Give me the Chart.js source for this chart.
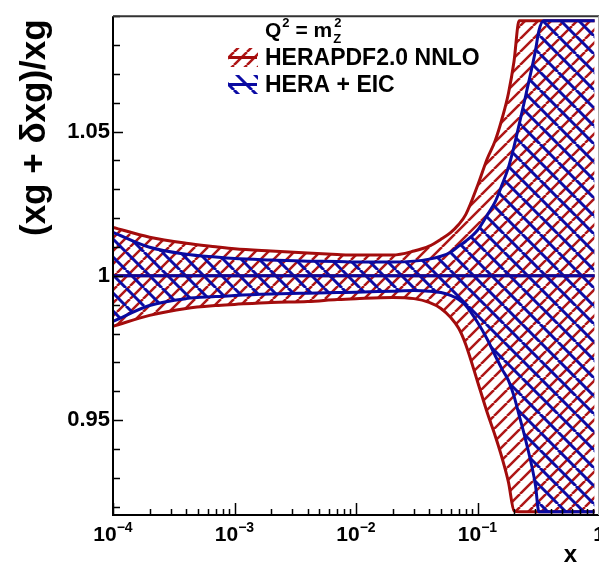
<!DOCTYPE html>
<html>
<head>
<meta charset="utf-8">
<script src="https://cdn.jsdelivr.net/npm/chart.js@4.4.0/dist/chart.umd.min.js"></script>
<style>
  html, body { margin: 0; padding: 0; background: #fff; overflow: hidden; }
</style>
</head>
<body>
<canvas id="ratioChart" width="599" height="563"></canvas>
<script>
// x grid and band edges
const xRed = [1e-4, 2e-4, 4e-4, 7e-4, 1e-3, 2e-3, 4e-3, 7e-3, 1e-2, 0.02, 0.03, 0.04, 0.05, 0.06, 0.07, 0.08, 0.1, 0.12, 0.14, 0.16, 0.18, 0.2, 0.22, 0.25, 0.3, 0.4, 0.6, 0.92];
const redUpper = [1.0168, 1.0134, 1.0113, 1.0101, 1.0094, 1.0086, 1.0079, 1.0074, 1.0072, 1.0072, 1.0086, 1.0103, 1.0127, 1.0150, 1.0178, 1.0212, 1.0312, 1.0405, 1.0469, 1.0548, 1.0634, 1.0745, 1.0884, 1.0884, 1.0884, 1.0884, 1.0884, 1.0884];
const redLower = [0.9825, 0.9863, 0.9887, 0.9897, 0.9901, 0.9908, 0.9911, 0.9918, 0.9921, 0.9925, 0.9921, 0.9908, 0.9887, 0.9856, 0.9818, 0.9762, 0.9634, 0.9527, 0.9445, 0.9366, 0.9284, 0.9185, 0.9182, 0.9182, 0.9182, 0.9182, 0.9182, 0.9182];

const xBlue = [1e-4, 2e-4, 4e-4, 7e-4, 1e-3, 2e-3, 4e-3, 7e-3, 1e-2, 0.02, 0.03, 0.04, 0.05, 0.06, 0.07, 0.08, 0.1, 0.12, 0.14, 0.16, 0.18, 0.2, 0.22, 0.25, 0.3, 0.32, 0.35, 0.4, 0.6, 0.92];
const blueUpper = [1.0151, 1.0099, 1.0075, 1.0065, 1.0060, 1.0055, 1.0051, 1.0050, 1.0048, 1.0048, 1.0051, 1.0058, 1.0068, 1.0082, 1.0103, 1.0120, 1.0158, 1.0210, 1.0257, 1.0318, 1.0377, 1.0449, 1.0524, 1.0627, 1.0781, 1.0849, 1.0884, 1.0884, 1.0884, 1.0884];
const blueLower = [0.9842, 0.9897, 0.9921, 0.9928, 0.9932, 0.9937, 0.9940, 0.9942, 0.9943, 0.9947, 0.9949, 0.9947, 0.9942, 0.9932, 0.9918, 0.9897, 0.9839, 0.9781, 0.9723, 0.9675, 0.9637, 0.9582, 0.9517, 0.9428, 0.9274, 0.9182, 0.9182, 0.9182, 0.9182, 0.9182];

const xCentral = [1e-4, 0.92];
const central = [1, 1];

const seriesNames = ['HERAPDF2.0 NNLO', 'HERA + EIC'];
const yTitle = '(xg + \u03b4xg)/xg';
const xTitle = 'x';

const FONT = "'Liberation Sans', Arial, Helvetica, sans-serif";
const RED = 'rgb(163,12,12)';
const BLUE = 'rgb(10,10,160)';

function makeHatch(color, size, width, dir) {
  const c = document.createElement('canvas');
  c.width = size; c.height = size;
  const g = c.getContext('2d');
  g.strokeStyle = color;
  g.lineWidth = width;
  g.beginPath();
  for (let k = -1; k <= 1; k++) {
    if (dir > 0) { g.moveTo(k * size, size); g.lineTo(k * size + size, 0); }
    else { g.moveTo(k * size, 0); g.lineTo(k * size + size, size); }
  }
  g.stroke();
  return g.createPattern(c, 'repeat');
}

const redHatch = makeHatch('rgb(175,22,22)', 13, 2.5, 1);
const blueHatch = makeHatch('rgb(12,12,165)', 18, 3, -1);

function pts(xs, ys) { return xs.map((x, i) => ({x: x, y: ys[i]})); }

function isDecade(v) {
  const l = Math.log10(v);
  return Math.abs(l - Math.round(l)) < 1e-9;
}

// ticks inside the frame, tick labels, titles, legend, frame
const decorations = {
  id: 'decorations',
  afterDraw(chart) {
    const ctx = chart.ctx;
    const a = chart.chartArea;
    const xs = chart.scales.x, ys = chart.scales.y;
    ctx.save();

    // tick marks
    ctx.strokeStyle = '#000';
    ctx.lineWidth = 1.5;
    ctx.beginPath();
    const e0 = Math.round(Math.log10(xs.min)), e1 = Math.round(Math.log10(xs.max));
    for (let e = e0; e <= e1; e++) {
      for (let m = 1; m <= 9; m++) {
        const v = m * Math.pow(10, e);
        if (v > xs.max * 1.0001) break;
        const px = Math.round(xs.getPixelForValue(v)) + 0.5;
        if (px > 599) continue;
        ctx.moveTo(px, a.bottom);
        ctx.lineTo(px, a.bottom - (m === 1 ? 12 : 6));
      }
    }
    for (let k = Math.ceil(ys.min * 100 - 1e-6); k <= Math.floor(ys.max * 100 + 1e-6); k++) {
      const py = Math.round(ys.getPixelForValue(k / 100)) + 0.5;
      ctx.moveTo(a.left, py);
      ctx.lineTo(a.left + (k % 5 === 0 ? 10 : 7), py);
    }
    ctx.stroke();

    // x tick labels 10^n
    ctx.fillStyle = '#000';
    ctx.textBaseline = 'alphabetic';
    ctx.textAlign = 'left';
    for (let e = e0; e <= e1; e++) {
      const v = Math.pow(10, e);
      if (!isDecade(v)) continue;
      const px = xs.getPixelForValue(v);
      if (e === 0) {
        ctx.font = 'bold 21px ' + FONT;
        const w = ctx.measureText('1').width;
        ctx.fillText('1', px - w / 2, 541);
        continue;
      }
      const exp = '\u2212' + Math.abs(e);
      ctx.font = 'bold 21px ' + FONT;
      const wb = ctx.measureText('10').width;
      ctx.font = 'bold 14px ' + FONT;
      const we = ctx.measureText(exp).width;
      const x0 = px - (wb + we) / 2;
      ctx.font = 'bold 21px ' + FONT;
      ctx.fillText('10', x0, 541);
      ctx.font = 'bold 14px ' + FONT;
      ctx.fillText(exp, x0 + wb, 532);
    }

    // frame
    ctx.lineWidth = 2;
    ctx.strokeStyle = '#000';
    ctx.beginPath();
    ctx.moveTo(a.left, a.top);
    ctx.lineTo(a.left, a.bottom);
    ctx.lineTo(a.right, a.bottom);
    ctx.stroke();
    ctx.strokeStyle = '#333';
    ctx.beginPath();
    ctx.moveTo(a.left, a.top);
    ctx.lineTo(a.right, a.top);
    ctx.stroke();
    ctx.strokeStyle = '#aaa';
    ctx.lineWidth = 1;
    ctx.beginPath();
    ctx.moveTo(598.5, a.top);
    ctx.lineTo(598.5, a.bottom);
    ctx.stroke();

    // axis titles
    ctx.fillStyle = '#000';
    ctx.font = 'bold 35px ' + FONT;
    ctx.save();
    ctx.translate(45, 236);
    ctx.rotate(-Math.PI / 2);
    ctx.textAlign = 'left';
    ctx.fillText(yTitle, 0, 0);
    ctx.restore();
    ctx.font = 'bold 24px ' + FONT;
    ctx.textAlign = 'right';
    ctx.fillText(xTitle, 577, 562);

    // legend header Q^2 = m_Z^2
    ctx.textAlign = 'left';
    let x = 265;
    ctx.font = 'bold 21px ' + FONT;
    ctx.fillText('Q', x, 37);
    x += ctx.measureText('Q').width + 1;
    ctx.font = 'bold 13px ' + FONT;
    ctx.fillText('2', x, 27);
    x += ctx.measureText('2').width;
    ctx.font = 'bold 21px ' + FONT;
    ctx.fillText(' = m', x, 37);
    x += ctx.measureText(' = m').width + 1;
    ctx.font = 'bold 13px ' + FONT;
    ctx.fillText('Z', x, 43);
    ctx.fillText('2', x + 1, 27);

    // legend entries
    const entries = [
      {name: seriesNames[0], pat: redHatch, col: RED, top: 48, base: 65},
      {name: seriesNames[1], pat: blueHatch, col: BLUE, top: 75, base: 92}
    ];
    entries.forEach(en => {
      ctx.save();
      ctx.beginPath();
      ctx.rect(228, en.top, 30, 19);
      ctx.clip();
      ctx.fillStyle = en.pat;
      ctx.fillRect(228, en.top, 30, 19);
      ctx.restore();
      ctx.strokeStyle = en.col;
      ctx.lineWidth = 3;
      ctx.beginPath();
      ctx.moveTo(229, en.top + 9.5);
      ctx.lineTo(257, en.top + 9.5);
      ctx.stroke();
      ctx.fillStyle = '#000';
      ctx.font = 'bold 23px ' + FONT;
      ctx.fillText(en.name, 265, en.base);
    });
    ctx.restore();
  }
};

const lineBase = {pointRadius: 0, borderWidth: 3, cubicInterpolationMode: 'monotone'};

new Chart(document.getElementById('ratioChart'), {
  type: 'line',
  data: {
    datasets: [
      Object.assign({label: seriesNames[0] + ' lower', data: pts(xRed, redLower), borderColor: RED, fill: false, order: 5}, lineBase),
      Object.assign({label: seriesNames[0], data: pts(xRed, redUpper), borderColor: RED, backgroundColor: redHatch, fill: '-1', order: 6}, lineBase),
      Object.assign({label: seriesNames[1] + ' lower', data: pts(xBlue, blueLower), borderColor: BLUE, fill: false, order: 3}, lineBase),
      Object.assign({label: seriesNames[1], data: pts(xBlue, blueUpper), borderColor: BLUE, backgroundColor: blueHatch, fill: '-1', order: 4}, lineBase),
      Object.assign({label: 'central red', data: pts(xCentral, central), borderColor: RED, fill: false, order: 2}, lineBase),
      Object.assign({label: 'central blue', data: pts(xCentral, central), borderColor: BLUE, fill: false, order: 1}, lineBase)
    ]
  },
  options: {
    responsive: false,
    animation: false,
    devicePixelRatio: 1,
    layout: {padding: {top: 10, right: -1, left: 0, bottom: 0}},
    plugins: {legend: {display: false}, tooltip: {enabled: false}},
    scales: {
      x: {
        type: 'logarithmic',
        min: 1e-4,
        max: 1,
        border: {display: false},
        grid: {display: false, drawTicks: false},
        ticks: {display: false},
        afterFit: s => { s.height = 48; }
      },
      y: {
        min: 0.9171,
        max: 1.0900,
        border: {display: false},
        grid: {display: false, drawTicks: false},
        ticks: {
          stepSize: 0.01,
          maxTicksLimit: 100,
          autoSkip: false,
          includeBounds: false,
          padding: 3,
          color: '#000',
          font: {family: FONT, size: 22, weight: 'bold'},
          callback: v => {
            const k = v * 20;
            if (Math.abs(k - Math.round(k)) > 1e-6) return '';
            const r = Math.round(k) / 20;
            return r === 1 ? '1' : r.toFixed(2);
          }
        },
        afterFit: s => { s.width = 113; }
      }
    }
  },
  plugins: [decorations]
});
</script>
</body>
</html>
